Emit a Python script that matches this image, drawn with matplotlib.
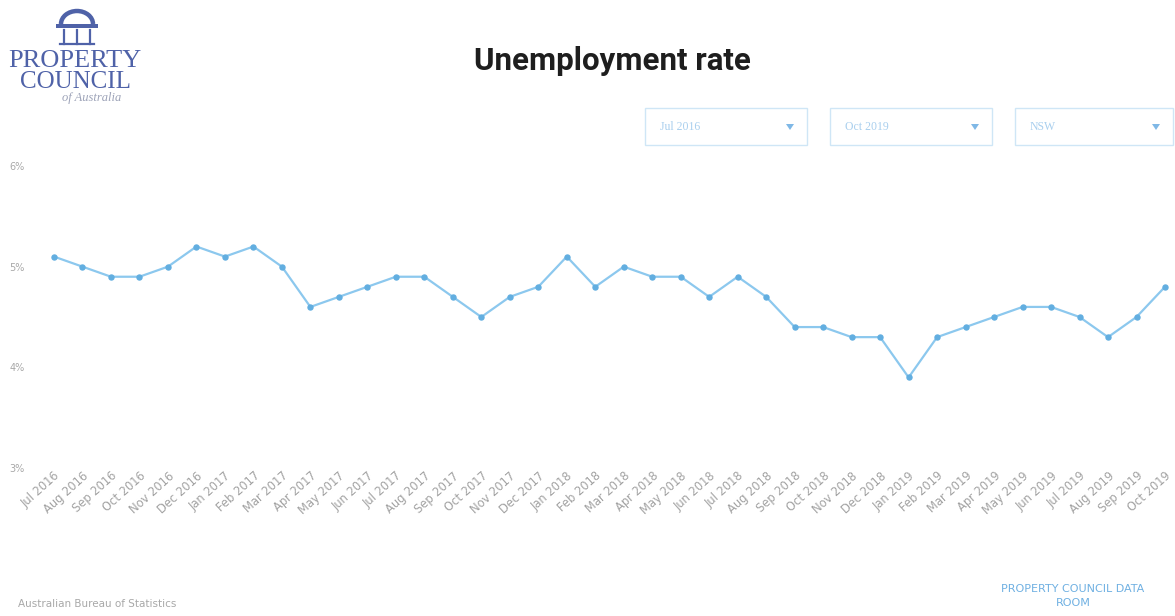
import matplotlib
matplotlib.use("Agg")
import matplotlib.pyplot as plt
from matplotlib.patches import Rectangle, Arc, Polygon

months = ["Jul 2016", "Aug 2016", "Sep 2016", "Oct 2016", "Nov 2016", "Dec 2016",
          "Jan 2017", "Feb 2017", "Mar 2017", "Apr 2017", "May 2017", "Jun 2017",
          "Jul 2017", "Aug 2017", "Sep 2017", "Oct 2017", "Nov 2017", "Dec 2017",
          "Jan 2018", "Feb 2018", "Mar 2018", "Apr 2018", "May 2018", "Jun 2018",
          "Jul 2018", "Aug 2018", "Sep 2018", "Oct 2018", "Nov 2018", "Dec 2018",
          "Jan 2019", "Feb 2019", "Mar 2019", "Apr 2019", "May 2019", "Jun 2019",
          "Jul 2019", "Aug 2019", "Sep 2019", "Oct 2019"]
rate = [5.1, 5.0, 4.9, 4.9, 5.0, 5.2,
        5.1, 5.2, 5.0, 4.6, 4.7, 4.8,
        4.9, 4.9, 4.7, 4.5, 4.7, 4.8,
        5.1, 4.8, 5.0, 4.9, 4.9, 4.7,
        4.9, 4.7, 4.4, 4.4, 4.3, 4.3,
        3.9, 4.3, 4.4, 4.5, 4.6, 4.6,
        4.5, 4.3, 4.5, 4.8]
y_ticks = [3, 4, 5, 6]
y_tick_labels = ["3%", "4%", "5%", "6%"]
dropdowns = ["Jul 2016", "Oct 2019", "NSW"]

W, H = 1175, 616
fig = plt.figure(figsize=(W / 100, H / 100), dpi=100)
fig.patch.set_facecolor("white")

def fx(px):
    return px / W

def fy(py):
    return 1 - py / H

# main axes
ax_left, ax_right = 30, 1175
ax_top, ax_bottom = 166, 468
ax = fig.add_axes([fx(ax_left), fy(ax_bottom), fx(ax_right - ax_left), (ax_bottom - ax_top) / H])
x = list(range(len(months)))
ax.plot(x, rate, color="#8cc8ee", linewidth=1.6, marker="o", markersize=3.6,
        markerfacecolor="#62aee0", markeredgecolor="#62aee0", zorder=3)
step = (1165 - 54) / (len(months) - 1)
ax.set_xlim(-(54 - ax_left) / step, len(months) - 1 + (ax_right - 1165) / step)
ax.set_ylim(3, 6)
for s in ax.spines.values():
    s.set_visible(False)
ax.set_yticks(y_ticks)
ax.set_yticklabels(y_tick_labels, fontsize=7, color="#a8a8a8")
ax.tick_params(axis="y", length=0, pad=4)
ax.set_xticks(x)
ax.set_xticklabels(months, rotation=42, ha="right", rotation_mode="anchor",
                   fontsize=8.3, color="#a2a2a2")
ax.tick_params(axis="x", length=0, pad=1)
ax.grid(False)

# title
fig.text(fx(612), fy(61), "Unemployment rate", ha="center", va="center",
         fontsize=22.5, fontweight="bold", color="#1e1e1e", family="Roboto")

# overlay for dropdowns and logo
ov = fig.add_axes([0, 0, 1, 1], zorder=-1)
ov.set_xlim(0, W)
ov.set_ylim(H, 0)
ov.axis("off")
boxes = [(645, 807), (830, 992), (1015, 1173)]
for (x0, x1), label in zip(boxes, dropdowns):
    ov.add_patch(Rectangle((x0, 108), x1 - x0, 37, fill=False, edgecolor="#cfe6f6", linewidth=1.0))
    ov.text(x0 + 15, 127, label, fontsize=8.5, color="#a9cfee", va="center", ha="left",
            family="Liberation Serif")
    cx = x1 - 17
    ov.add_patch(Polygon([[cx - 4, 124], [cx + 4, 124], [cx, 130]], closed=True,
                         facecolor="#7fb8e6", edgecolor="none"))

# logo
navy = "#4f62a8"
ov.add_patch(Arc((77, 24), 32, 26, theta1=180, theta2=360, edgecolor=navy, linewidth=3.2))
ov.add_patch(Rectangle((56, 24), 42, 4, facecolor=navy, edgecolor="none"))
for cx in (64, 77, 90):
    ov.plot([cx, cx], [30, 44], color=navy, linewidth=1.6)
ov.plot([60, 94], [44, 44], color=navy, linewidth=1.6)
ov.text(75, 61, "PROPERTY", fontsize=19, color=navy, ha="center", va="center",
        family="Liberation Serif")
ov.text(75, 82, "COUNCIL", fontsize=18, color=navy, ha="center", va="center",
        family="Liberation Serif")
ov.text(92, 98, "of Australia", fontsize=9, color="#9da3b8", ha="center", va="center",
        family="Liberation Serif", style="italic")

# footer
fig.text(fx(18), fy(604), "Australian Bureau of Statistics", fontsize=7.5, color="#a8a8a8",
         ha="left", va="center")
fig.text(fx(1073), fy(596), "PROPERTY COUNCIL DATA\nROOM", fontsize=8, color="#6fb0e2",
         ha="center", va="center", linespacing=1.6)

fig.savefig("out.png", dpi=100, facecolor="white")
